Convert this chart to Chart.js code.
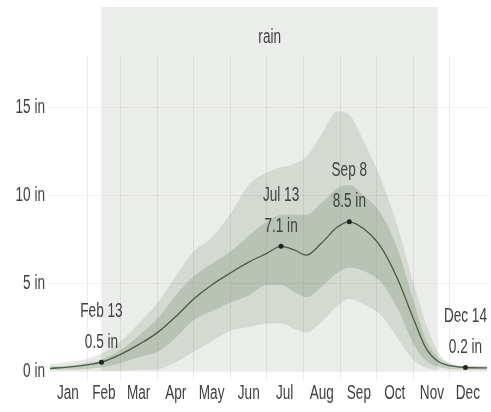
<!DOCTYPE html>
<html>
<head>
<meta charset="utf-8">
<script src="https://cdn.jsdelivr.net/npm/chart.js@4"></script>
<style>
  body { margin: 0; background: #fff; }
  #wrap { width: 491px; height: 412px; position: relative; }
</style>
</head>
<body>
<div id="wrap"><canvas id="rainChart"></canvas></div>
<script>
// day of year (0 = Jan 1)
const days = [0, 15, 31, 43, 59, 74, 90, 105, 120, 135, 151, 166, 181, 193, 204, 214, 227, 240, 250, 262, 276, 290, 304, 314, 324, 334, 347, 365];
// 31-day rainfall, inches
const p90 = [0.4, 0.5, 0.7, 1.0, 1.7, 2.7, 3.9, 5.4, 6.8, 7.6, 9.0, 10.6, 11.3, 11.6, 11.8, 12.2, 13.5, 14.8, 14.6, 13.1, 11.0, 8.3, 4.9, 2.7, 1.1, 0.45, 0.3, 0.3];
const p75 = [0.25, 0.3, 0.45, 0.65, 1.2, 2.0, 3.0, 4.3, 5.4, 6.1, 6.8, 7.7, 8.5, 8.9, 8.9, 8.9, 9.6, 10.4, 10.6, 10.0, 9.0, 7.0, 3.9, 1.8, 0.8, 0.4, 0.25, 0.25];
const p50 = [0.15, 0.22, 0.35, 0.5, 0.95, 1.5, 2.2, 3.1, 4.1, 4.9, 5.6, 6.2, 6.7, 7.1, 6.9, 6.6, 7.3, 8.2, 8.5, 8.1, 7.1, 5.3, 2.9, 1.3, 0.55, 0.3, 0.2, 0.18];
const p25 = [0.05, 0.08, 0.12, 0.2, 0.45, 0.8, 1.1, 1.9, 2.9, 3.4, 3.9, 4.3, 4.9, 4.9, 4.5, 4.2, 4.8, 5.6, 5.9, 5.7, 5.1, 3.6, 1.5, 0.6, 0.25, 0.12, 0.08, 0.07];
const p10 = [0, 0, 0, 0, 0.02, 0.05, 0.1, 0.5, 1.1, 1.7, 2.3, 2.5, 2.7, 2.7, 2.4, 2.2, 2.8, 3.7, 4.1, 3.8, 3.2, 1.9, 0.6, 0.2, 0.05, 0.02, 0, 0];

const monthStarts = [31, 59, 90, 120, 151, 181, 212, 243, 273, 304, 334];
const monthMids = [15, 45, 74, 105, 135, 166, 196, 227, 258, 288, 319, 349];
const monthNames = ["Jan", "Feb", "Mar", "Apr", "May", "Jun", "Jul", "Aug", "Sep", "Oct", "Nov", "Dec"];
const yTicks = [0, 5, 10, 15];

// rainy period
const seasonStart = 43;
const seasonEnd = 324;
const seasonLabel = "rain";

// labelled points
const markDays = [43, 193, 250, 347];
const markValues = [0.5, 7.1, 8.5, 0.2];
const markDates = ["Feb 13", "Jul 13", "Sep 8", "Dec 14"];

const FONT = "20px 'Liberation Sans', Arial, sans-serif";
const TEXT = "#404040";
const SQUEEZE = 0.68; // the text in the picture is tall and narrow

const pts = (arr) => days.map((d, i) => ({ x: d, y: arr[i] }));

// draws narrow text; align is "center" or "right"
function narrowText(ctx, str, x, y, align) {
  ctx.save();
  ctx.font = FONT;
  ctx.fillStyle = TEXT;
  ctx.textBaseline = "middle";
  ctx.textAlign = align || "center";
  ctx.translate(x, y);
  ctx.scale(SQUEEZE, 1);
  ctx.fillText(str, 0, 0);
  ctx.restore();
}

function narrowWidth(ctx, str) {
  ctx.save();
  ctx.font = FONT;
  const w = ctx.measureText(str).width * SQUEEZE;
  ctx.restore();
  return w;
}

const seasonPlugin = {
  id: "season",
  beforeDraw(chart) {
    const { ctx, chartArea, scales } = chart;
    const x0 = scales.x.getPixelForValue(seasonStart);
    const x1 = scales.x.getPixelForValue(seasonEnd);
    ctx.save();
    ctx.fillStyle = "#ebedea";
    ctx.fillRect(x0, 7, x1 - x0, chartArea.bottom - 7);
    ctx.restore();
    narrowText(ctx, seasonLabel, (x0 + x1) / 2, 37);
  },
};

const textPlugin = {
  id: "texts",
  afterDraw(chart) {
    const { ctx, scales, chartArea } = chart;
    // axis labels
    scales.xl.ticks.forEach((t, i) => {
      narrowText(ctx, monthNames[i], scales.xl.getPixelForValue(t.value), scales.xl.top + 13);
    });
    scales.y.ticks.forEach((t) => {
      narrowText(ctx, t.value + " in", chartArea.left - 5, scales.y.getPixelForValue(t.value), "right");
    });
    // labelled points
    chart.getDatasetMeta(0).data.forEach((pt, i) => {
      const l1 = markDates[i];
      const l2 = markValues[i] + " in";
      let x = pt.x;
      const w = Math.max(narrowWidth(ctx, l1), narrowWidth(ctx, l2));
      if (x + w / 2 > chart.width - 1) x = chart.width - 1 - w / 2;
      narrowText(ctx, l1, x, pt.y - 51);
      narrowText(ctx, l2, x, pt.y - 20);
    });
  },
};

new Chart(document.getElementById("rainChart"), {
  type: "line",
  data: {
    datasets: [
      {
        label: "marks",
        data: markDays.map((d, i) => ({ x: d, y: markValues[i] })),
        showLine: false,
        pointRadius: 2.5,
        pointBackgroundColor: "#222",
        pointBorderWidth: 0,
      },
      {
        label: "median",
        data: pts(p50),
        borderColor: "#4a5a44",
        borderWidth: 1.3,
        pointRadius: 0,
        fill: false,
      },
      {
        label: "75th",
        data: pts(p75),
        borderWidth: 0,
        pointRadius: 0,
        fill: 3,
        backgroundColor: "rgba(110,130,100,0.26)",
      },
      {
        label: "25th",
        data: pts(p25),
        borderWidth: 0,
        pointRadius: 0,
        fill: false,
      },
      {
        label: "90th",
        data: pts(p90),
        borderWidth: 0,
        pointRadius: 0,
        fill: 5,
        backgroundColor: "rgba(110,130,100,0.18)",
      },
      {
        label: "10th",
        data: pts(p10),
        borderWidth: 0,
        pointRadius: 0,
        fill: false,
      },
    ],
  },
  options: {
    responsive: true,
    maintainAspectRatio: false,
    animation: false,
    layout: { padding: { top: 55, right: 0, left: 0, bottom: 0 } },
    elements: { line: { cubicInterpolationMode: "monotone" } },
    plugins: {
      legend: { display: false },
      tooltip: { enabled: false },
    },
    scales: {
      x: {
        type: "linear",
        min: 0,
        max: 365,
        weight: 0,
        afterBuildTicks: (s) => { s.ticks = monthStarts.map((v) => ({ value: v })); },
        afterFit: (s) => { s.height = 9; },
        ticks: { display: false },
        grid: { color: "rgba(0,0,0,0.07)", drawTicks: true, tickLength: 9 },
        border: { display: false },
      },
      xl: {
        type: "linear",
        position: "bottom",
        min: 0,
        max: 365,
        weight: 1,
        afterBuildTicks: (s) => { s.ticks = monthMids.map((v) => ({ value: v })); },
        afterFit: (s) => { s.height = 32; },
        ticks: { autoSkip: false, maxRotation: 0, color: "transparent" },
        grid: { display: false },
        border: { display: false },
      },
      y: {
        min: 0,
        max: 18,
        afterBuildTicks: (s) => { s.ticks = yTicks.map((v) => ({ value: v })); },
        afterFit: (s) => { s.width = 50; },
        ticks: { color: "transparent" },
        grid: { color: "rgba(0,0,0,0.05)", drawTicks: false },
        border: { display: false },
      },
    },
  },
  plugins: [seasonPlugin, textPlugin],
});
</script>
</body>
</html>
